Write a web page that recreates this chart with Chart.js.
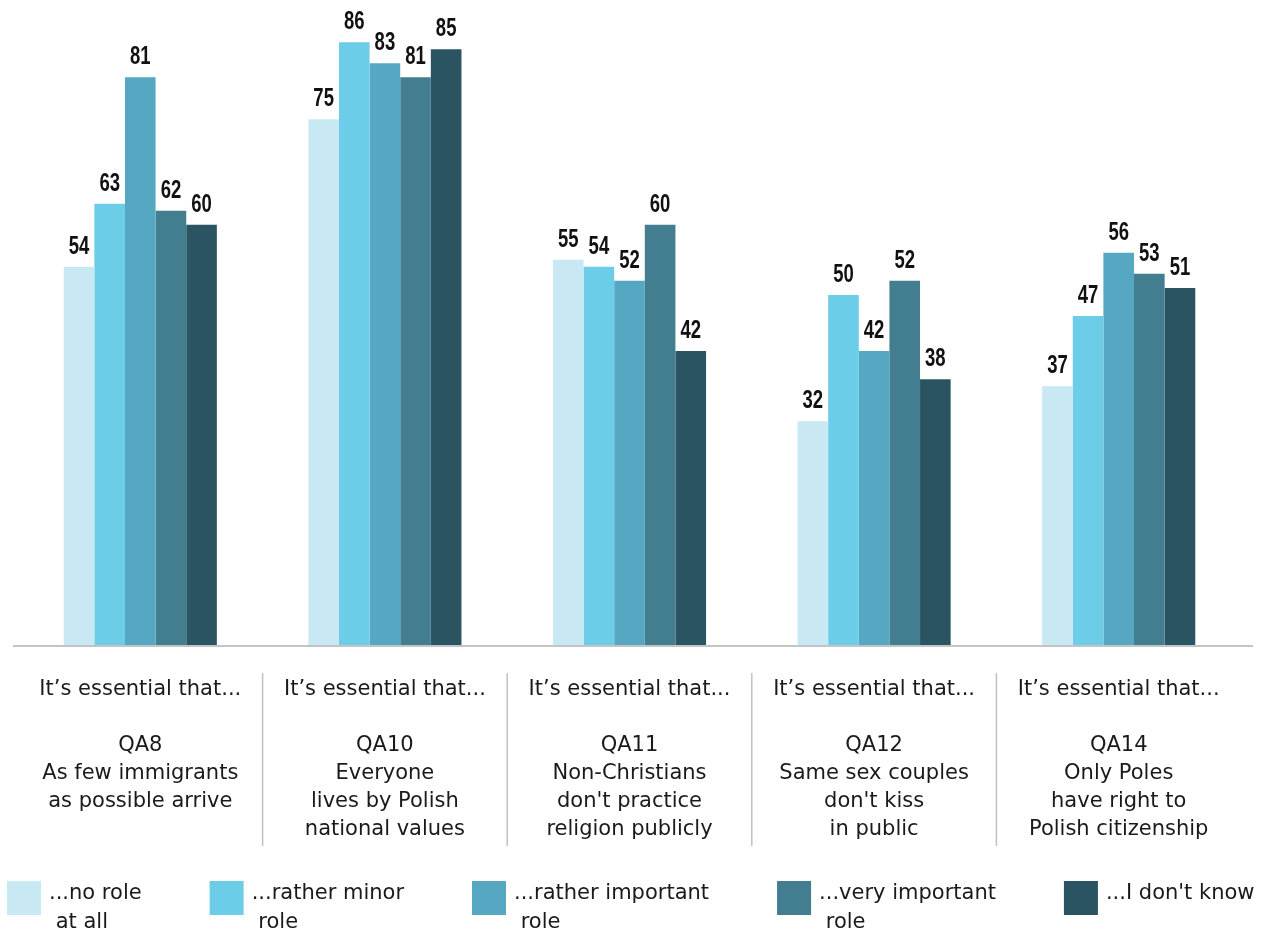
<!DOCTYPE html>
<html>
<head>
<meta charset="utf-8">
<script src="https://cdn.jsdelivr.net/npm/chart.js@4.4.1/dist/chart.umd.min.js"></script>
<style>
html, body { margin: 0; padding: 0; background: #fff; }
canvas { display: block; }
</style>
</head>
<body>
<canvas id="roleChart" width="1273" height="935"></canvas>
<script>
// essential-that.chart.js

/* DATA */

const introLine = "It\u2019s essential that...";
const questionCodes = ["QA8", "QA10", "QA11", "QA12", "QA14"];
const questionTexts = [
  ["As few immigrants", "as possible arrive"],
  ["Everyone", "lives by Polish", "national values"],
  ["Non-Christians", "don't practice", "religion publicly"],
  ["Same sex couples", "don't kiss", "in public"],
  ["Only Poles", "have right to", "Polish citizenship"]
];

const seriesLabels = [
  ["...no role", " at all"],
  ["...rather minor", " role"],
  ["...rather important", " role"],
  ["...very important", " role"],
  ["...I don't know"]
];

const noRole = [54, 75, 55, 32, 37];
const ratherMinor = [63, 86, 54, 50, 47];
const ratherImportant = [81, 83, 52, 42, 56];
const veryImportant = [62, 81, 60, 52, 53];
const dontKnow = [60, 85, 42, 38, 51];

const seriesColors = ["#c8e8f4", "#6ccde8", "#56a8c2", "#437e90", "#2b5462"];

/* BUILD */

const categories = questionCodes.map((code, i) => [introLine, "", code].concat(questionTexts[i]));
const seriesValues = [noRole, ratherMinor, ratherImportant, veryImportant, dontKnow];

const TEXT_FONT = '"DejaVu Sans", sans-serif';

/* EXTRA DRAWING: value labels, axis line, dividers, legend */

const extrasPlugin = {
  id: "extras",
  afterDatasetsDraw(chart){
    const ctx = chart.ctx;
    const area = chart.chartArea;
    const xScale = chart.scales.x;

    ctx.save();

    // axis line
    ctx.strokeStyle = "#c4c4c4";
    ctx.lineWidth = 2;
    ctx.beginPath();
    ctx.moveTo(area.left - 5, area.bottom);
    ctx.lineTo(area.right + 12, area.bottom);
    ctx.stroke();

    // value labels (condensed bold look: squeeze horizontally)
    ctx.font = 'bold 25px "Liberation Sans", Arial, sans-serif';
    ctx.fillStyle = "#111";
    ctx.textAlign = "center";
    ctx.textBaseline = "alphabetic";
    chart.data.datasets.forEach((ds, i) => {
      chart.getDatasetMeta(i).data.forEach((bar, j) => {
        ctx.save();
        ctx.translate(bar.x, bar.y - 13);
        ctx.scale(0.74, 1);
        ctx.fillText(String(ds.data[j]), 0, 0);
        ctx.restore();
      });
    });

    // dividers between categories
    ctx.strokeStyle = "#c0c0c0";
    ctx.lineWidth = 1.5;
    for(let i = 1; i < categories.length; i++){
      const px = (xScale.getPixelForValue(i - 1) + xScale.getPixelForValue(i)) / 2;
      ctx.beginPath();
      ctx.moveTo(px, area.bottom + 27);
      ctx.lineTo(px, area.bottom + 200);
      ctx.stroke();
    }

    // legend
    ctx.font = "21px " + TEXT_FONT;
    ctx.textAlign = "left";
    let lx = 7;
    const boxTop = 881;
    seriesLabels.forEach((lines, i) => {
      ctx.fillStyle = seriesColors[i];
      ctx.fillRect(lx, boxTop, 34, 34);
      ctx.fillStyle = "#1a1a1a";
      let widest = 0;
      lines.forEach((line, k) => {
        ctx.fillText(line, lx + 42, 899 + k * 29);
        widest = Math.max(widest, ctx.measureText(line).width);
      });
      lx += 42 + widest + 68;
    });

    ctx.restore();
  }
};

/* CREATE CHART */

const canvas = document.getElementById("roleChart");

const chart = new Chart(canvas, {
  type: "bar",
  data: {
    labels: categories,
    datasets: seriesValues.map((values, i) => ({
      label: seriesLabels[i].join(" "),
      data: values,
      backgroundColor: seriesColors[i],
      borderWidth: 0,
      barPercentage: 1,
      categoryPercentage: 0.626
    }))
  },
  options: {
    responsive: false,
    animation: false,
    layout: {
      padding: { left: 18, right: 32, top: 0, bottom: 0 }
    },
    plugins: {
      legend: { display: false },
      tooltip: { enabled: false }
    },
    scales: {
      y: {
        display: false,
        min: 0,
        max: 92
      },
      x: {
        grid: { display: false, drawTicks: false },
        border: { display: false },
        ticks: {
          autoSkip: false,
          maxRotation: 0,
          padding: 29,
          color: "#1a1a1a",
          font: { family: TEXT_FONT, size: 21, lineHeight: 1.34 }
        },
        afterFit(scale){
          scale.height = 289;
        }
      }
    }
  },
  plugins: [extrasPlugin]
});
</script>
</body>
</html>
